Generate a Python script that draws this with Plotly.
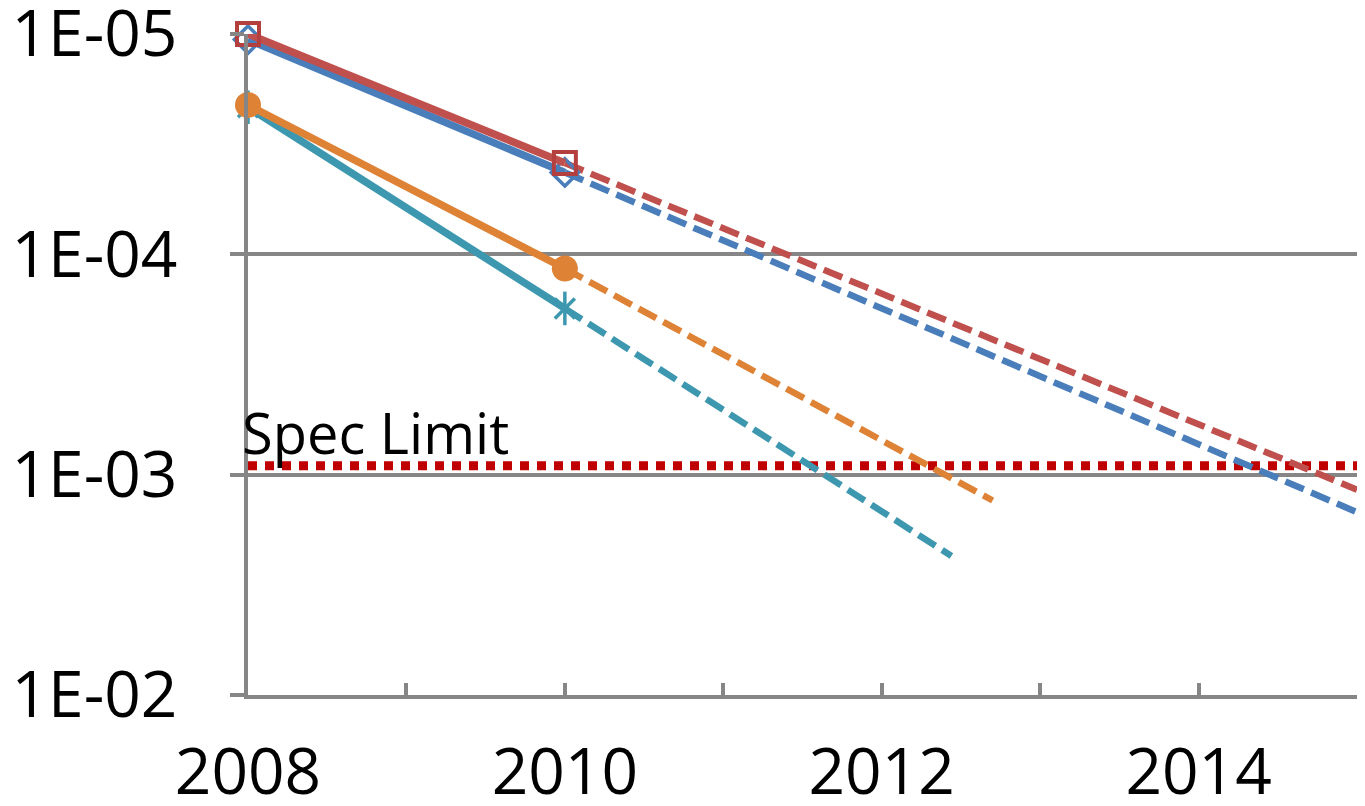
import numpy as np
import plotly.graph_objects as go

# Measured values (2008, 2010) and projected trend end points
years_measured = [2008, 2010]
blue_vals = [1.06e-5, 4.25e-5]
red_vals = [1.0e-5, 3.85e-5]
orange_vals = [2.1e-5, 1.16e-4]
teal_vals = [2.15e-5, 1.76e-4]

blue_proj_year, blue_proj_val = 2015, 1.48e-3
red_proj_year, red_proj_val = 2015, 1.17e-3
orange_proj_year, orange_proj_val = 2012.7, 1.31e-3
teal_proj_year, teal_proj_val = 2012.44, 2.34e-3

spec_limit = 9.1e-4
spec_years = [2008, 2015]

x_tick_vals = [2008, 2009, 2010, 2011, 2012, 2013, 2014, 2015]
x_tick_text = ["2008", "", "2010", "", "2012", "", "2014", ""]
y_tick_vals = [1e-5, 1e-4, 1e-3, 1e-2]
y_tick_text = ["1E-05", "1E-04", "1E-03", "1E-02"]

BLUE = "#4A7EBB"
RED = "#C0504D"
RED_MARK = "#B33F3F"
ORANGE = "#DE8236"
TEAL = "#3D98AF"
GRID = "#868686"
FONT = "Open Sans"

fig = go.Figure()

# Spec limit (dotted)
fig.add_trace(go.Scatter(
    x=spec_years, y=[spec_limit, spec_limit], mode="lines",
    line=dict(color="#C00000", width=9, dash="9px,8px"),
    hoverinfo="skip"))

# Projected trends (dashed)
for yr, v, py, pv, c in [
    (years_measured, blue_vals, blue_proj_year, blue_proj_val, BLUE),
    (years_measured, red_vals, red_proj_year, red_proj_val, RED),
    (years_measured, teal_vals, teal_proj_year, teal_proj_val, TEAL),
    (years_measured, orange_vals, orange_proj_year, orange_proj_val, ORANGE),
]:
    fig.add_trace(go.Scatter(
        x=[yr[-1], py], y=[v[-1], pv], mode="lines",
        line=dict(color=c, width=6.5, dash="20px,8px"),
        hoverinfo="skip"))

# Measured series
fig.add_trace(go.Scatter(
    x=years_measured, y=blue_vals, mode="lines+markers", cliponaxis=False,
    line=dict(color=BLUE, width=7.5),
    marker=dict(symbol="diamond-open", size=21, color=BLUE, line=dict(width=3.5, color=BLUE))))
fig.add_trace(go.Scatter(
    x=years_measured, y=red_vals, mode="lines+markers", cliponaxis=False,
    line=dict(color=RED, width=7.5),
    marker=dict(symbol="square-open", size=22, color=RED_MARK, line=dict(width=4, color=RED_MARK))))
fig.add_trace(go.Scatter(
    x=years_measured, y=teal_vals, mode="lines+markers", cliponaxis=False,
    line=dict(color=TEAL, width=7.5),
    marker=dict(symbol="x-thin-open", size=20, color=TEAL, line=dict(width=3.5, color=TEAL))))
fig.add_trace(go.Scatter(
    x=years_measured, y=teal_vals, mode="markers", cliponaxis=False,
    marker=dict(symbol="line-ns-open", size=24, color=TEAL, line=dict(width=3.5, color=TEAL))))
fig.add_trace(go.Scatter(
    x=years_measured, y=orange_vals, mode="lines+markers", cliponaxis=False,
    line=dict(color=ORANGE, width=7.5),
    marker=dict(symbol="circle", size=26, color=ORANGE)))

fig.add_annotation(
    x=2008, y=np.log10(spec_limit), xref="x", yref="y",
    text="Spec Limit", showarrow=False, xanchor="left", yanchor="middle",
    xshift=-8, yshift=34,
    font=dict(family=FONT, size=56, color="black"))

fig.update_layout(
    width=1365, height=806,
    margin=dict(l=248, r=8, t=34, b=111, autoexpand=False),
    paper_bgcolor="white", plot_bgcolor="white",
    showlegend=False,
    font=dict(family=FONT, size=64, color="black"),
)
fig.update_xaxes(
    range=[2008, 2015], tickvals=x_tick_vals, ticktext=x_tick_text,
    showgrid=False, zeroline=False, automargin=False,
    showline=True, linecolor=GRID, linewidth=3.5,
    ticks="inside", ticklen=12, tickwidth=3.5, tickcolor=GRID,
    ticklabelstandoff=18, ticklabeloverflow="allow",
    tickfont=dict(family=FONT, size=64, color="black"))
fig.update_yaxes(
    type="log", range=[-2, -5], tickvals=y_tick_vals, ticktext=y_tick_text,
    showgrid=True, gridcolor=GRID, gridwidth=3.5, zeroline=False, automargin=False,
    showline=True, linecolor=GRID, linewidth=3.5,
    ticks="outside", ticklen=14, tickwidth=3.5, tickcolor=GRID,
    ticklabelstandoff=40, ticklabeloverflow="allow",
    tickfont=dict(family=FONT, size=64, color="black"))

fig.write_html("out.html")
